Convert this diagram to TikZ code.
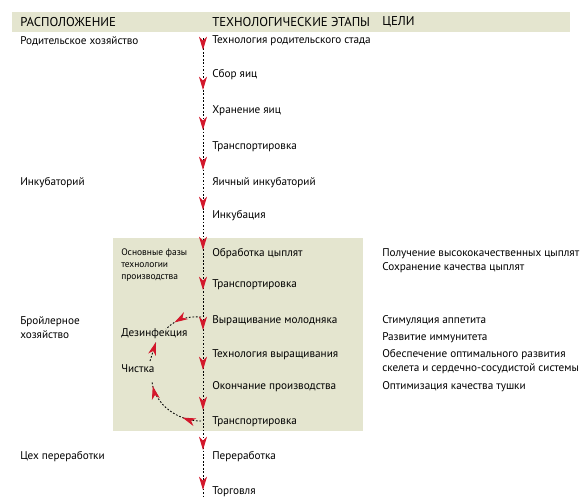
\documentclass[tikz,border=0pt]{standalone}
\usepackage{fontspec}
\setmainfont{PT Sans}
\usetikzlibrary{arrows.meta,decorations.markings}
\definecolor{panel}{HTML}{E4E5CF}
\definecolor{tipred}{HTML}{D3172B}
\tikzset{
  head/.style={anchor=west,inner sep=0pt,font=\fontsize{9.6}{11}\selectfont},
  stage/.style={anchor=west,inner sep=0pt,font=\fontsize{8.4}{10.5}\selectfont},
  place/.style={stage,align=left},
  goal/.style={stage,align=left},
  note/.style={anchor=west,inner sep=0pt,align=left,font=\fontsize{7.1}{9}\selectfont},
  redtip/.tip={Stealth[length=10pt,width=6pt,inset=3pt,color=tipred]},
  flowline/.style={line width=0.65pt,dash pattern=on 1.3pt off 1.3pt},
}
\begin{document}
\begin{tikzpicture}[x=0.75pt,y=-0.75pt]
\useasboundingbox (0,0) rectangle (584,496);
\fill[panel] (12,12) rectangle (570,32);
\fill[panel] (113,238) rectangle (363,431);
\node[head] (hplace) at (20,22) {РАСПОЛОЖЕНИЕ};
\node[head] (hstage) at (212,22) {ТЕХНОЛОГИЧЕСКИЕ ЭТАПЫ};
\node[head] (hgoal) at (382,22) {ЦЕЛИ};
\foreach \y/\t [count=\i] in {41/Технология родительского стада, 75/Сбор яиц,
    111/Хранение яиц, 147/Транспортировка, 183/Яичный инкубаторий, 216/Инкубация,
    254/Обработка цыплят, 285/Транспортировка, 321/Выращивание молодняка,
    355/Технология выращивания, 387/Окончание производства, 422/Транспортировка,
    457/Переработка, 492/Торговля}
  \node[stage] (s\i) at (212,\y) {\t};
\node[place] (p1) at (20,41) {Родительское хозяйство};
\node[place] (p2) at (20,183) {Инкубаторий};
\node[place] (p3) at (20,328) {Бройлерное\\хозяйство};
\node[place] (p4) at (20,457) {Цех переработки};
\node[goal] (g1) at (382,254) {Получение высококачественных цыплят};
\node[goal] (g2) at (382,268) {Сохранение качества цыплят};
\node[goal] (g3) at (382,321) {Стимуляция аппетита};
\node[goal] (g4) at (382,338) {Развитие иммунитета};
\node[goal] (g5) at (382,362) {Обеспечение оптимального развития\\скелета и сердечно-сосудистой системы};
\node[goal] (g6) at (382,387) {Оптимизация качества тушки};
\node[note] (phase) at (121,265) {Основные фазы\\технологии\\производства};
\node[stage] (dis) at (121,334) {Дезинфекция};
\node[stage] (cln) at (121,369) {Чистка};
\coordinate (top) at (203,38);
\coordinate (bot) at (203,496);
\coordinate (hi) at (201,317);
\coordinate (lo) at (201,421);
\coordinate (disin) at (166,329);
\coordinate (disout) at (156,342);
\coordinate (clnin) at (150,361);
\coordinate (clnout) at (152,382);
\draw[flowline,postaction={decorate},decoration={markings,
    mark=between positions 9pt and 340pt step 30pt with {\arrow{redtip}}}] (top) -- (bot);
\draw[flowline,postaction={decorate},decoration={markings,
    mark=at position 0.28 with {\arrow{redtip}},
    mark=at position 0.94 with {\arrow{redtip}}}]
  (lo) .. controls (178,421) and (155,405) .. (clnout);
\draw[flowline,postaction={decorate},decoration={markings,
    mark=at position 1 with {\arrow{redtip}}}] (clnin) -- (disout);
\draw[flowline,postaction={decorate},decoration={markings,
    mark=at position 0.72 with {\arrow{redtip}}}]
  (hi) .. controls (188,316) and (176,319) .. (disin);
\end{tikzpicture}
\end{document}
